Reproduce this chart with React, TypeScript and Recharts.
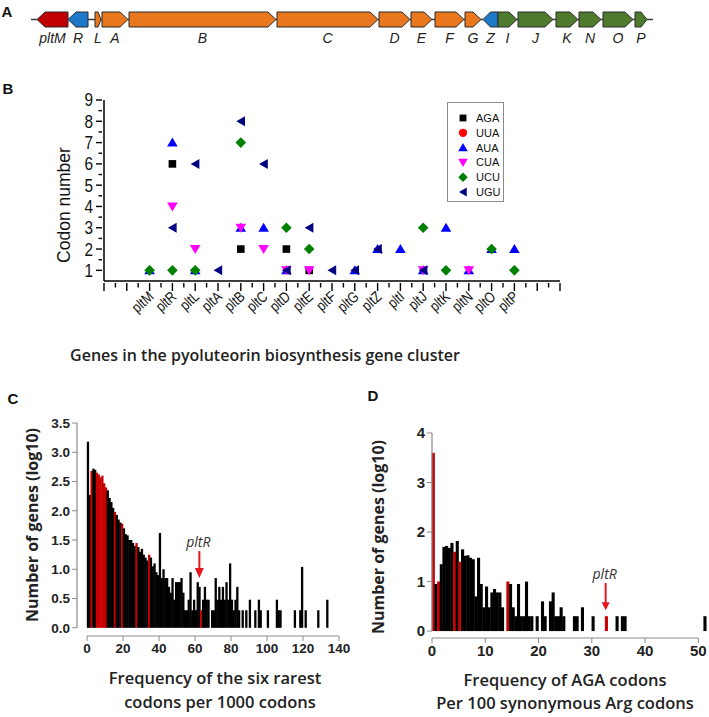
import React from 'react';
import { BarChart, Bar, XAxis, YAxis, ScatterChart, Scatter, ReferenceLine } from 'recharts';

// ---------------- Panel A: gene cluster map ----------------
const geneLabels = ['pltM', 'R', 'L', 'A', 'B', 'C', 'D', 'E', 'F', 'G', 'Z', 'I', 'J', 'K', 'N', 'O', 'P'];
const geneStarts = [37, 68, 95, 102, 129, 277, 379, 411, 435, 465, 483, 498, 518, 556, 579, 603, 635];
const geneEnds = [68, 88, 101, 128, 276, 378, 410, 432, 464, 481, 498, 517, 553, 578, 601, 633, 647];
const geneStrands = [-1, -1, 1, 1, 1, 1, 1, 1, 1, 1, -1, 1, 1, 1, 1, 1, 1];
const geneGroups = ['halo', 'reg', 'pks', 'pks', 'pks', 'pks', 'pks', 'pks', 'pks', 'pks', 'reg', 'tr', 'tr', 'tr', 'tr', 'tr', 'tr'];
const clusterSpan = [31, 653];

// ---------------- Panel B: codon numbers per gene ----------------
const bGenes = ['pltM', 'pltR', 'pltL', 'pltA', 'pltB', 'pltC', 'pltD', 'pltE', 'pltF', 'pltG', 'pltZ', 'pltI', 'pltJ', 'pltK', 'pltN', 'pltO', 'pltP'];
const codons = ['AGA', 'UUA', 'AUA', 'CUA', 'UCU', 'UGU'];
const AGA = [null, 6, null, null, 2, null, 2, 1, null, null, null, null, null, null, null, null, null];
const UUA = [null, null, null, null, null, null, null, null, null, null, null, null, null, null, null, null, null];
const AUA = [1, 7, 1, null, 3, 3, 1, null, null, 1, 2, 2, 1, 3, 1, 2, 2];
const CUA = [null, 4, 2, null, 3, 2, 1, 1, null, null, null, null, 1, null, 1, null, null];
const UCU = [1, 1, 1, null, 7, null, 3, 2, null, null, null, null, 3, 1, null, 2, 1];
const UGU = [null, 3, 6, 1, 8, 6, 1, 3, 1, 1, 2, null, 1, null, null, null, null];
const bYTickValues = [1, 1.5, 2, 2.5, 3, 3.5, 4, 4.5, 5, 5.5, 6, 6.5, 7, 7.5, 8, 8.5, 9];

// ---------------- Panel C: six rarest codons histogram ----------------
const cBins = [0, 1, 2, 3, 4, 5, 6, 7, 8, 9, 10, 11, 12, 13, 14, 15, 16, 17, 18, 19, 20, 21, 22, 23, 24, 25, 26, 27, 28, 29, 30, 31, 32, 33, 34, 35, 36, 37, 38, 39, 40, 41, 42, 43, 44, 45, 46, 47, 48, 49, 50, 51, 52, 53, 54, 55, 56, 57, 58, 59, 60, 61, 62, 63, 64, 65, 66, 67, 69, 70, 71, 72, 73, 74, 75, 76, 77, 78, 79, 80, 81, 82, 83, 84, 86, 88, 90, 93, 95, 96, 100, 105, 106, 107, 115, 118, 119, 121, 128, 133];
const cLog10 = [3.18, 2.27, 2.68, 2.72, 2.70, 2.65, 2.62, 2.57, 2.60, 2.47, 2.40, 2.35, 2.22, 2.15, 2.05, 1.98, 1.93, 1.85, 1.80, 1.78, 1.70, 1.60, 1.58, 1.50, 1.50, 1.45, 1.40, 1.45, 1.38, 1.30, 1.35, 1.25, 1.20, 1.15, 1.25, 1.20, 1.05, 1.10, 0.95, 0.90, 1.62, 0.85, 1.00, 0.85, 0.85, 0.70, 0.60, 0.85, 0.48, 0.78, 0.78, 0.78, 0.85, 0.60, 0.30, 0.30, 0.48, 0.95, 0.30, 0.48, 0.30, 0.78, 0.70, 0.30, 0.48, 0.70, 0.48, 0.48, 0.30, 0.30, 0.85, 0.48, 0.70, 0.48, 0.70, 0.48, 0.78, 0.48, 1.10, 0.48, 0.30, 0.48, 0.70, 0.30, 0.30, 0.30, 0.48, 0.30, 0.48, 0.30, 0.30, 0.48, 0.30, 0.30, 0.30, 0.30, 1.04, 0.30, 0.30, 0.48];
const cRedBins = [2, 5, 6, 7, 8, 9, 10, 15, 19, 27, 34, 63];
const cXTicks = [0, 20, 40, 60, 80, 100, 120, 140];
const cYTicks = [0, 0.5, 1, 1.5, 2, 2.5, 3, 3.5];
const cPltR = { label: 'pltR', x: 62.4, from: 1.31, to: 0.85 };

// ---------------- Panel D: AGA codons histogram ----------------
const dBins = [0, 0.5, 1, 1.5, 2, 2.5, 3, 3.5, 4, 4.5, 5, 5.5, 6, 6.5, 7, 7.5, 8, 8.5, 9, 9.5, 10, 10.5, 11, 11.5, 12, 12.5, 13, 14, 14.5, 15, 15.5, 16, 16.5, 17, 17.5, 18, 18.5, 19.5, 20.5, 21, 22, 22.5, 23, 23.5, 24, 24.5, 26.5, 27, 28, 30, 32.5, 34.5, 35.5, 36, 51];
const dLog10 = [3.60, 0.95, 1.00, 1.35, 1.70, 1.72, 1.68, 1.78, 1.60, 1.82, 1.40, 1.65, 1.52, 1.53, 1.48, 1.45, 0.70, 1.48, 0.95, 0.48, 0.90, 0.48, 0.78, 0.85, 0.78, 0.78, 0.48, 1.00, 0.95, 0.48, 0.30, 0.95, 0.30, 0.30, 1.00, 0.30, 0.30, 0.30, 0.60, 0.30, 0.60, 0.78, 0.30, 0.30, 0.48, 0.30, 0.30, 0.30, 0.48, 0.30, 0.30, 0.30, 0.30, 0.30, 0.30];
const dRedBins = [0, 1, 4, 5, 14, 32.5];
const dXTicks = [0, 10, 20, 30, 40, 50];
const dYTicks = [0, 1, 2, 3, 4];
const dPltR = { label: 'pltR', x: 32.6, from: 0.97, to: 0.42 };

// ---------------- styles ----------------
const ARIAL = "'Liberation Sans', Arial, sans-serif";
const SANS = "'Open Sans', 'Noto Sans', sans-serif";
const groupColors: Record<string, string> = { halo: '#C00000', reg: '#1E78C8', pks: '#E8771E', tr: '#4E7A2E' };
const codonColors = ['#000000', '#FF0000', '#0000FF', '#FF00FF', '#008000', '#000080'];
const BAR_RED = '#C80000';
const ARROW_RED = '#E8141E';
const AXIS_GRAY = '#8c8c8c';

// ---------------- derived tables ----------------
type Seg = { kind: 'lead' | 'line' | 'gene'; len: number; gene?: number };
const segments: Seg[] = [];
{
  let pos = clusterSpan[0];
  segments.push({ kind: 'lead', len: pos });
  geneStarts.forEach((s, i) => {
    if (s > pos) segments.push({ kind: 'line', len: s - pos });
    segments.push({ kind: 'gene', len: geneEnds[i] - s, gene: i });
    pos = geneEnds[i];
  });
  if (clusterSpan[1] > pos) segments.push({ kind: 'line', len: clusterSpan[1] - pos });
}
const clusterRow: Record<string, any> = { name: 'plt' };
segments.forEach((s, k) => {
  clusterRow['s' + k] = s.len;
});

const codonValues = [AGA, UUA, AUA, CUA, UCU, UGU];
const codonSeries = codonValues.map((arr) =>
  arr
    .map((v, i) => (v == null ? null : { x: i + 2, y: v, gene: bGenes[i] }))
    .filter((d) => d != null)
);
const bXTickValues: number[] = [];
for (let t = 0; t <= 40; t++) bXTickValues.push(t / 2);

const cData = cBins.map((b, i) => ({ x: b + 0.5, h: cLog10[i], red: cRedBins.includes(b) }));
const dData = dBins.map((b, i) => ({ x: b + 0.25, h: dLog10[i], red: dRedBins.includes(b) }));

// ---------------- shapes ----------------
const segShape = (seg: Seg) => (p: any) => {
  const { x, y, width: w, height: h } = p;
  if (seg.kind === 'lead') return <g />;
  if (seg.kind === 'line')
    return <line x1={x} x2={x + w} y1={y + h / 2} y2={y + h / 2} stroke="#3a3a3a" strokeWidth={1.5} />;
  const i = seg.gene as number;
  const head = Math.min(8, w * 0.5);
  const pts =
    geneStrands[i] > 0
      ? `${x},${y} ${x + w - head},${y} ${x + w},${y + h / 2} ${x + w - head},${y + h} ${x},${y + h}`
      : `${x + w},${y} ${x + head},${y} ${x},${y + h / 2} ${x + head},${y + h} ${x + w},${y + h}`;
  return (
    <g>
      <polygon points={pts} fill={groupColors[geneGroups[i]]} stroke="#2b2b2b" strokeWidth={1} />
      <text x={x + w / 2} y={y + h + 16} textAnchor="middle" fontStyle="italic" fontSize={14} fontFamily={ARIAL} fill="#222">
        {geneLabels[i]}
      </text>
    </g>
  );
};

const marker = (k: number, cx: number, cy: number, s = 1) => {
  const c = codonColors[k];
  switch (k) {
    case 0:
      return <rect x={cx - 3.8 * s} y={cy - 3.8 * s} width={7.6 * s} height={7.6 * s} fill={c} />;
    case 1:
      return <circle cx={cx} cy={cy} r={4.6 * s} fill={c} />;
    case 2:
      return <polygon points={`${cx},${cy - 5 * s} ${cx + 5.3 * s},${cy + 4 * s} ${cx - 5.3 * s},${cy + 4 * s}`} fill={c} />;
    case 3:
      return <polygon points={`${cx - 5.3 * s},${cy - 4 * s} ${cx + 5.3 * s},${cy - 4 * s} ${cx},${cy + 5 * s}`} fill={c} />;
    case 4:
      return <polygon points={`${cx},${cy - 5.3 * s} ${cx + 5.3 * s},${cy} ${cx},${cy + 5.3 * s} ${cx - 5.3 * s},${cy}`} fill={c} />;
    default:
      return <polygon points={`${cx - 4.5 * s},${cy} ${cx + 4.2 * s},${cy - 5 * s} ${cx + 4.2 * s},${cy + 5 * s}`} fill={c} />;
  }
};

// horizontal squeeze (the reference figure is narrow-set)
const squeeze = (ax: number, ay: number, f: number) => `translate(${ax},${ay}) scale(${f},1) translate(${-ax},${-ay})`;

const GeneTick = (props: any) => {
  const { x, y, payload } = props;
  const v = payload.value as number;
  const major = Math.abs(v - Math.round(v)) < 1e-6;
  const idx = Math.round(v) - 2;
  const name = major && idx >= 0 && idx < bGenes.length ? bGenes[idx] : null;
  const ax = x + 5;
  const ay = y + 15;
  return (
    <g>
      <line x1={x} x2={x} y1={y} y2={y + (major ? 8 : 4.5)} stroke="#000" strokeWidth={1.4} />
      {name && (
        <text
          x={ax}
          y={ay}
          textAnchor="end"
          transform={`rotate(-42, ${ax}, ${ay}) ${squeeze(ax, ay, 0.82)}`}
          fontSize={15}
          fontFamily={ARIAL}
          fill="#111"
        >
          {name}
        </text>
      )}
    </g>
  );
};

const CountTick = (props: any) => {
  const { x, y, payload } = props;
  const v = payload.value as number;
  const major = Math.abs(v - Math.round(v)) < 1e-6;
  const ax = x - 9;
  return (
    <g>
      <line x1={x - (major ? 6 : 3.5)} x2={x} y1={y} y2={y} stroke="#000" strokeWidth={1.4} />
      {major && (
        <text x={ax} y={y} dy="0.36em" textAnchor="end" fontSize={18} fontFamily={ARIAL} fill="#111" transform={squeeze(ax, y, 0.85)}>
          {v}
        </text>
      )}
    </g>
  );
};

// bins drawn slightly overlapping so the dense part of the histogram reads as solid
const binShape = (minW: number) => (p: any) => {
  if (!p.height || p.height <= 0) return <g />;
  const w = Math.max(p.width, minW);
  const cx = p.x + p.width / 2;
  return <rect x={cx - w / 2} y={p.y} width={w} height={p.height} fill={p.payload && p.payload.red ? BAR_RED : '#000'} />;
};

const arrowShape = (label: string, headW: number, headH: number) => (p: any) => {
  const { x1, y1, x2, y2 } = p;
  return (
    <g>
      <line x1={x1} y1={y1} x2={x2} y2={y2 - headH + 1} stroke={ARROW_RED} strokeWidth={2} />
      <polygon points={`${x2 - headW / 2},${y2 - headH} ${x2 + headW / 2},${y2 - headH} ${x2},${y2}`} fill={ARROW_RED} />
      <text x={x1 - 1} y={y1 - 4} textAnchor="middle" fontStyle="italic" fontSize={14} fontFamily={SANS} fill="#333">
        {label}
      </text>
    </g>
  );
};

const Txt = ({ x, y, rotate, style, children }: any) => (
  <div
    style={{
      position: 'absolute',
      left: x,
      top: y,
      transform: `translate(-50%, -50%)${rotate ? ` rotate(${rotate}deg)` : ''}`,
      whiteSpace: 'nowrap',
      lineHeight: 1,
      ...style,
    }}
  >
    {children}
  </div>
);

const panelLetter = { fontFamily: ARIAL, fontWeight: 700, fontSize: 15, color: '#111' };
const histTick = { fontSize: 13.5, fontWeight: 700, fill: '#222', fontFamily: ARIAL };
const histTickD = { fontSize: 15, fontWeight: 700, fill: '#222', fontFamily: ARIAL };
const titleStyle = { fontFamily: SANS, fontWeight: 600, fontSize: 16.5, color: '#222' };

export default function App() {
  return (
    <div style={{ position: 'relative', width: 709, height: 717, background: '#fff', overflow: 'hidden' }}>
      <style>{'body{margin:0;}'}</style>

      {/* Panel A */}
      <div style={{ position: 'absolute', left: 0, top: 0 }}>
        <BarChart width={709} height={55} data={[clusterRow]} layout="vertical" margin={{ top: 12, right: 0, bottom: 28, left: 0 }} barCategoryGap={0}>
          <XAxis type="number" domain={[0, 709]} hide />
          <YAxis type="category" dataKey="name" hide />
          {segments.map((s, k) => (
            <Bar key={k} dataKey={'s' + k} stackId="cluster" isAnimationActive={false} shape={segShape(s)} />
          ))}
        </BarChart>
      </div>

      {/* Panel B */}
      <div style={{ position: 'absolute', left: 0, top: 60 }}>
        <ScatterChart width={709} height={310} margin={{ top: 40, right: 149, bottom: 29, left: 64 }}>
          <XAxis
            type="number"
            dataKey="x"
            domain={[0, 20]}
            ticks={bXTickValues}
            interval={0}
            tickSize={0}
            tickLine={false}
            axisLine={{ stroke: '#000', strokeWidth: 1.5 }}
            tick={(p: any) => <GeneTick {...p} />}
            height={60}
          />
          <YAxis
            type="number"
            dataKey="y"
            domain={[0.5, 9]}
            ticks={bYTickValues}
            interval={0}
            tickSize={0}
            tickLine={false}
            axisLine={{ stroke: '#000', strokeWidth: 1.5 }}
            tick={(p: any) => <CountTick {...p} />}
            width={40}
          />
          {codons.map((c, k) => (
            <Scatter key={c} name={c} data={codonSeries[k]} isAnimationActive={false} shape={(p: any) => marker(k, p.cx, p.cy)} />
          ))}
        </ScatterChart>
      </div>

      {/* Panel B legend */}
      <div style={{ position: 'absolute', left: 447, top: 102, width: 57, height: 100, border: '1px solid #8a8a8a', boxSizing: 'border-box', background: '#fff' }}>
        <svg width={55} height={98}>
          {codons.map((c, k) => (
            <g key={c}>
              {marker(k, 15, 15 + k * 14.8, 0.9)}
              <text x={28} y={15 + k * 14.8} dy="0.36em" fontSize={11} fontFamily={ARIAL} fill="#111">
                {c}
              </text>
            </g>
          ))}
        </svg>
      </div>

      {/* Panel C */}
      <div style={{ position: 'absolute', left: 0, top: 380 }}>
        <BarChart width={360} height={337} data={cData} margin={{ top: 43, right: 21, bottom: 51, left: 37 }}>
          <XAxis type="number" dataKey="x" domain={[-5.6, 140]} ticks={cXTicks} interval={0} axisLine={false} tickLine={{ stroke: AXIS_GRAY }} tickSize={5} tick={histTick} height={30} />
          <YAxis type="number" domain={[-0.14, 3.5]} ticks={cYTicks} interval={0} axisLine={false} tickLine={{ stroke: AXIS_GRAY }} tickSize={5} tickFormatter={(v: number) => v.toFixed(1)} tick={histTick} width={40} />
          <Bar dataKey="h" barSize={1.78} isAnimationActive={false} shape={binShape(2.3)} />
          <ReferenceLine segment={[{ x: -5.6, y: 0 }, { x: -5.6, y: 3.5 }]} stroke={AXIS_GRAY} strokeWidth={1.2} ifOverflow="visible" />
          <ReferenceLine segment={[{ x: 0, y: -0.14 }, { x: 140, y: -0.14 }]} stroke={AXIS_GRAY} strokeWidth={1.2} ifOverflow="visible" />
          <ReferenceLine segment={[{ x: cPltR.x, y: cPltR.from }, { x: cPltR.x, y: cPltR.to }]} ifOverflow="visible" shape={arrowShape(cPltR.label, 9, 10)} />
        </BarChart>
      </div>

      {/* Panel D */}
      <div style={{ position: 'absolute', left: 360, top: 380 }}>
        <BarChart width={349} height={337} data={dData} margin={{ top: 53, right: 0, bottom: 49, left: 32 }}>
          <XAxis type="number" dataKey="x" domain={[0, 52]} ticks={dXTicks} interval={0} axisLine={false} tickLine={{ stroke: AXIS_GRAY }} tickSize={5} tick={histTickD} height={30} />
          <YAxis type="number" domain={[-0.14, 4]} ticks={dYTicks} interval={0} axisLine={false} tickLine={{ stroke: AXIS_GRAY }} tickSize={5} tick={histTickD} width={40} />
          <Bar dataKey="h" barSize={2.6} isAnimationActive={false} shape={binShape(3.1)} />
          <ReferenceLine segment={[{ x: 0, y: 0 }, { x: 0, y: 4 }]} stroke={AXIS_GRAY} strokeWidth={1.2} ifOverflow="visible" />
          <ReferenceLine segment={[{ x: 0, y: -0.14 }, { x: 50, y: -0.14 }]} stroke={AXIS_GRAY} strokeWidth={1.2} ifOverflow="visible" />
          <ReferenceLine segment={[{ x: dPltR.x, y: dPltR.from }, { x: dPltR.x, y: dPltR.to }]} ifOverflow="visible" shape={arrowShape(dPltR.label, 8, 8)} />
        </BarChart>
      </div>

      {/* Text: panel letters and axis titles */}
      <Txt x={7} y={11} style={panelLetter}>A</Txt>
      <Txt x={8} y={88} style={panelLetter}>B</Txt>
      <Txt x={13} y={398} style={panelLetter}>C</Txt>
      <Txt x={373} y={395} style={panelLetter}>D</Txt>

      <Txt x={65} y={205} rotate={-90} style={{ fontFamily: ARIAL, fontSize: 17.5, color: '#111' }}>Codon number</Txt>
      <Txt x={265} y={355} style={{ ...titleStyle, fontSize: 16 }}>Genes in the pyoluteorin biosynthesis gene cluster</Txt>

      <Txt x={32} y={525} rotate={-90} style={{ ...titleStyle, fontWeight: 700, fontSize: 16 }}>Number of genes (log10)</Txt>
      <Txt x={215} y={678} style={titleStyle}>Frequency of the six rarest</Txt>
      <Txt x={220} y={702} style={titleStyle}>codons per 1000 codons</Txt>

      <Txt x={378} y={537} rotate={-90} style={{ ...titleStyle, fontWeight: 700, fontSize: 16 }}>Number of genes (log10)</Txt>
      <Txt x={565} y={680} style={titleStyle}>Frequency of AGA codons</Txt>
      <Txt x={565} y={703} style={titleStyle}>Per 100 synonymous Arg codons</Txt>
    </div>
  );
}
